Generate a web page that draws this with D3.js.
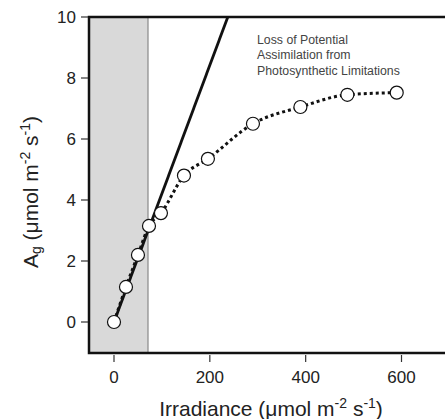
<!DOCTYPE html>
<html>
<head>
<meta charset="utf-8">
<script src="https://cdn.jsdelivr.net/npm/d3@7"></script>
<style>
  body { margin: 0; background: #fff; }
  text { font-family: "Liberation Sans", Arial, sans-serif; fill: #222; }
</style>
</head>
<body>
<svg id="chart" width="445" height="419"></svg>
<script>
// measured points
const irradiance = [0, 25, 50, 73, 98, 146, 196, 290, 389, 487, 590];
const assimilation = [0, 1.15, 2.2, 3.15, 3.57, 4.8, 5.35, 6.5, 7.05, 7.45, 7.52];
// initial-slope line and shaded light-limited zone
const slopeLine = [[0, 0], [237.5, 10]];
const shadeRange = [-52, 71];
const xTicks = [0, 200, 400, 600];
const yTicks = [0, 2, 4, 6, 8, 10];
const noteLines = ["Loss of Potential", "Assimilation from", "Photosynthetic Limitations"];

const svg = d3.select("#chart");
const pLeft = 89, pTop = 17, pBottom = 353, pRight = 445;

const x = d3.scaleLinear().domain([0, 600]).range([114, 401.5]);
const y = d3.scaleLinear().domain([0, 10]).range([322, 17]);

const plot = svg.append("g");

// shaded region
plot.append("rect")
  .attr("x", pLeft)
  .attr("y", pTop)
  .attr("width", x(shadeRange[1]) - pLeft)
  .attr("height", pBottom - pTop)
  .attr("fill", "#d9d9d9");
plot.append("line")
  .attr("x1", x(shadeRange[1])).attr("x2", x(shadeRange[1]))
  .attr("y1", pTop).attr("y2", pBottom)
  .attr("stroke", "#777").attr("stroke-width", 1);

// frame: left, top, bottom
const frame = d3.path();
frame.moveTo(pRight, pTop);
frame.lineTo(pLeft, pTop);
frame.lineTo(pLeft, pBottom);
frame.lineTo(pRight, pBottom);
plot.append("path")
  .attr("d", frame.toString())
  .attr("fill", "none")
  .attr("stroke", "#111")
  .attr("stroke-width", 2.5);

// ticks
yTicks.forEach(t => {
  plot.append("line")
    .attr("x1", 81).attr("x2", 88)
    .attr("y1", y(t)).attr("y2", y(t))
    .attr("stroke", "#333").attr("stroke-width", 1.2);
  plot.append("text")
    .attr("x", 76).attr("y", y(t))
    .attr("dy", "0.36em")
    .attr("text-anchor", "end")
    .attr("font-size", 17)
    .text(t);
});
xTicks.forEach(t => {
  plot.append("line")
    .attr("x1", x(t)).attr("x2", x(t))
    .attr("y1", 355).attr("y2", 362)
    .attr("stroke", "#333").attr("stroke-width", 1.2);
  plot.append("text")
    .attr("x", x(t)).attr("y", 383)
    .attr("text-anchor", "middle")
    .attr("font-size", 17)
    .text(t);
});

// solid initial slope line
plot.append("line")
  .attr("x1", x(slopeLine[0][0])).attr("y1", y(slopeLine[0][1]))
  .attr("x2", x(slopeLine[1][0])).attr("y2", y(slopeLine[1][1]))
  .attr("stroke", "#111").attr("stroke-width", 2.8);

// dotted response curve
const pts = irradiance.map((d, i) => [d, assimilation[i]]);
const curve = d3.line()
  .x(d => x(d[0]))
  .y(d => y(d[1]))
  .curve(d3.curveMonotoneX);
plot.append("path")
  .attr("d", curve(pts))
  .attr("fill", "none")
  .attr("stroke", "#111")
  .attr("stroke-width", 3)
  .attr("stroke-dasharray", "3,3");

// points
plot.selectAll("circle")
  .data(pts)
  .join("circle")
  .attr("cx", d => x(d[0]))
  .attr("cy", d => y(d[1]))
  .attr("r", 6.5)
  .attr("fill", "#fff")
  .attr("stroke", "#111")
  .attr("stroke-width", 1.2);

// annotation
const note = plot.append("text")
  .attr("x", 257).attr("y", 44)
  .attr("font-size", 12.3)
  .style("fill", "#444");
noteLines.forEach((s, i) => {
  note.append("tspan").attr("x", 257).attr("dy", i === 0 ? 0 : 15.3).text(s);
});

// x label
const xl = svg.append("text")
  .attr("x", 271).attr("y", 416)
  .attr("text-anchor", "middle")
  .attr("font-size", 21);
xl.append("tspan").text("Irradiance (μmol m");
xl.append("tspan").attr("dy", -8).attr("font-size", 14).text("-2");
xl.append("tspan").attr("dy", 8).text(" s");
xl.append("tspan").attr("dy", -8).attr("font-size", 14).text("-1");
xl.append("tspan").attr("dy", 8).text(")");

// y label
const yl = svg.append("text")
  .attr("transform", "translate(38,192) rotate(-90)")
  .attr("text-anchor", "middle")
  .attr("font-size", 21);
yl.append("tspan").text("A");
yl.append("tspan").attr("dy", 3).attr("font-size", 14).text("g");
yl.append("tspan").attr("dy", -3).text(" (μmol m");
yl.append("tspan").attr("dy", -8).attr("font-size", 14).text("-2");
yl.append("tspan").attr("dy", 8).text(" s");
yl.append("tspan").attr("dy", -8).attr("font-size", 14).text("-1");
yl.append("tspan").attr("dy", 8).text(")");
</script>
</body>
</html>
